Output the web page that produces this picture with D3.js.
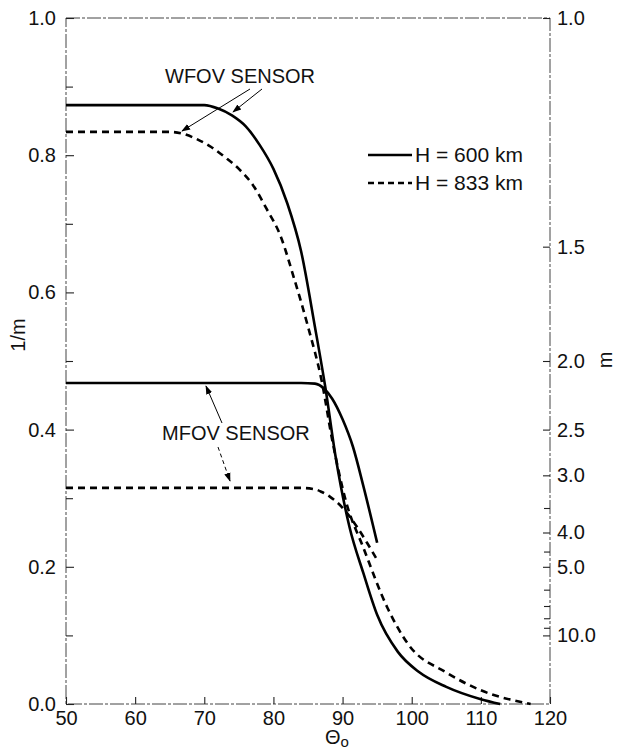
<!DOCTYPE html>
<html>
<head>
<meta charset="utf-8">
<script src="https://cdn.jsdelivr.net/npm/d3@7"></script>
<style>
  body { margin: 0; background: #fff; }
  text { font-family: "Liberation Sans", Arial, Helvetica, sans-serif; fill: #111; }
</style>
</head>
<body>
<svg id="chart" width="618" height="749"></svg>
<script>
// Zenith angle (deg) and 1/m for each sensor / orbit altitude
const thetaWfov600 = [50, 70, 72, 74, 76, 78, 80, 82, 84, 86, 87.5, 89, 91, 93, 95, 98, 101, 105, 110, 112.8];
const invMWfov600  = [0.873, 0.873, 0.868, 0.858, 0.842, 0.815, 0.780, 0.730, 0.660, 0.550, 0.462, 0.360, 0.258, 0.191, 0.130, 0.076, 0.047, 0.025, 0.007, 0.0];

const thetaWfov833 = [50, 65, 67, 69, 71, 73, 75, 77, 79, 81, 83, 85, 87, 88.5, 90.5, 93, 96.5, 99.5, 105, 110, 117.2];
const invMWfov833  = [0.834, 0.834, 0.831, 0.823, 0.812, 0.797, 0.780, 0.757, 0.722, 0.683, 0.620, 0.550, 0.470, 0.385, 0.295, 0.228, 0.140, 0.087, 0.046, 0.020, 0.0];

const thetaMfov600 = [50, 84, 86, 87.3, 88.5, 90, 91.5, 93, 95];
const invMMfov600  = [0.468, 0.468, 0.467, 0.460, 0.445, 0.415, 0.375, 0.318, 0.235];

const thetaMfov833 = [50, 84, 86, 87, 88.2, 90.1, 92.1, 93.6, 95];
const invMMfov833  = [0.315, 0.315, 0.313, 0.309, 0.302, 0.285, 0.258, 0.234, 0.210];

// Axis ticks
const xTicks = [50, 60, 70, 80, 90, 100, 110, 120];
const leftMajor = [0, 0.2, 0.4, 0.6, 0.8, 1.0];
const leftMinor = [0.1, 0.3, 0.5, 0.7, 0.9];
const rightMajorM = [1.0, 1.5, 2.0, 2.5, 3.0, 4.0, 5.0, 10.0];
const rightMinorM = [3.5, 4.5, 6, 7, 8, 9];

const legendLabels = ["H = 600 km", "H = 833 km"];
const sensorLabels = ["WFOV SENSOR", "MFOV SENSOR"];

const svg = d3.select("#chart");
const plotLeft = 66, plotRight = 550, plotTop = 18, plotBottom = 704;

const x = d3.scaleLinear().domain([50, 120]).range([plotLeft, plotRight]);
const y = d3.scaleLinear().domain([0, 1]).range([plotBottom, plotTop]);

const axisStroke = "#444";
const frameDash = "14,2,3,2";
const fs = 20;

// Frame
svg.append("rect")
  .attr("x", plotLeft).attr("y", plotTop)
  .attr("width", plotRight - plotLeft).attr("height", plotBottom - plotTop)
  .attr("fill", "none").attr("stroke", axisStroke)
  .attr("stroke-width", 1).attr("stroke-dasharray", frameDash);

function styleAxis(g) {
  g.select(".domain").remove();
  g.selectAll(".tick line").attr("stroke", "#222").attr("stroke-width", 1.1);
  g.selectAll(".tick text").attr("font-size", fs).attr("fill", "#111")
    .attr("font-family", "Liberation Sans, Arial, sans-serif");
}

// Bottom axis
svg.append("g").attr("transform", `translate(0,${plotBottom})`)
  .call(d3.axisBottom(x).tickValues(xTicks).tickFormat(d3.format("d"))
    .tickSize(-7).tickSizeOuter(0).tickPadding(7))
  .call(styleAxis);

// Left axis (major + minor)
svg.append("g").attr("transform", `translate(${plotLeft},0)`)
  .call(d3.axisLeft(y).tickValues(leftMajor).tickFormat(d3.format(".1f"))
    .tickSize(-8).tickSizeOuter(0).tickPadding(10))
  .call(styleAxis);
svg.append("g").attr("transform", `translate(${plotLeft},0)`)
  .call(d3.axisLeft(y).tickValues(leftMinor).tickFormat("")
    .tickSize(-7).tickSizeOuter(0))
  .call(styleAxis);

// Right axis: m shown at position 1/m
svg.append("g").attr("transform", `translate(${plotRight},0)`)
  .call(d3.axisRight(y).tickValues(rightMajorM.map(m => 1 / m))
    .tickFormat((d, i) => d3.format(".1f")(rightMajorM[i]))
    .tickSize(-7).tickSizeOuter(0).tickPadding(7))
  .call(styleAxis);
svg.append("g").attr("transform", `translate(${plotRight},0)`)
  .call(d3.axisRight(y).tickValues(rightMinorM.map(m => 1 / m)).tickFormat("")
    .tickSize(-6).tickSizeOuter(0))
  .call(styleAxis);

// Axis titles
svg.append("text").attr("transform", `translate(25,335) rotate(-90)`)
  .attr("text-anchor", "middle").attr("font-size", fs).text("1/m");
svg.append("text").attr("transform", `translate(612,360) rotate(-90)`)
  .attr("text-anchor", "middle").attr("font-size", fs).text("m");
const xt = svg.append("text").attr("x", 337).attr("y", 744)
  .attr("text-anchor", "middle").attr("font-size", fs);
xt.append("tspan").text("Θ");
xt.append("tspan").attr("dy", 3).attr("font-size", 15).text("o");

// Curves
const line = d3.line().x(d => x(d[0])).y(d => y(d[1])).curve(d3.curveMonotoneX);
const zip = (a, b) => a.map((v, i) => [v, b[i]]);
const series = [
  { data: zip(thetaWfov600, invMWfov600), dash: null },
  { data: zip(thetaWfov833, invMWfov833), dash: "7,5" },
  { data: zip(thetaMfov600, invMMfov600), dash: null },
  { data: zip(thetaMfov833, invMMfov833), dash: "7,5" }
];
svg.append("g").selectAll("path").data(series).join("path")
  .attr("d", s => line(s.data))
  .attr("fill", "none").attr("stroke", "#000").attr("stroke-width", 2.6)
  .attr("stroke-dasharray", s => s.dash);

// Legend
const lg = svg.append("g");
[0, 1].forEach(i => {
  const ly = 155 + i * 28;
  lg.append("line").attr("x1", 368).attr("x2", 412).attr("y1", ly).attr("y2", ly)
    .attr("stroke", "#000").attr("stroke-width", 2.6)
    .attr("stroke-dasharray", i === 0 ? null : "6,4");
  lg.append("text").attr("x", 415).attr("y", ly + 7).attr("font-size", 21).text(legendLabels[i]);
});

// Sensor labels with pointer arrows
const defs = svg.append("defs");
defs.append("marker").attr("id", "ah").attr("viewBox", "0 0 10 10")
  .attr("refX", 9).attr("refY", 5).attr("markerWidth", 9).attr("markerHeight", 9)
  .attr("markerUnits", "userSpaceOnUse")
  .attr("orient", "auto")
  .append("path").attr("d", "M0,1.5 L10,5 L0,8.5 Z").attr("fill", "#000");

svg.append("text").attr("x", 165).attr("y", 83).attr("font-size", fs).text(sensorLabels[0]);
svg.append("text").attr("x", 162).attr("y", 440).attr("font-size", fs).text(sensorLabels[1]);

const arrow = (x1, y1, x2, y2, dash) => svg.append("line")
  .attr("x1", x1).attr("y1", y1).attr("x2", x2).attr("y2", y2)
  .attr("stroke", "#000").attr("stroke-width", 1)
  .attr("stroke-dasharray", dash || null)
  .attr("marker-end", "url(#ah)");

arrow(262, 89, 233, 112);
arrow(250, 89, 182, 131);
arrow(222, 423, 206, 386);
arrow(218, 447, 230, 481, "4,3");
</script>
</body>
</html>
